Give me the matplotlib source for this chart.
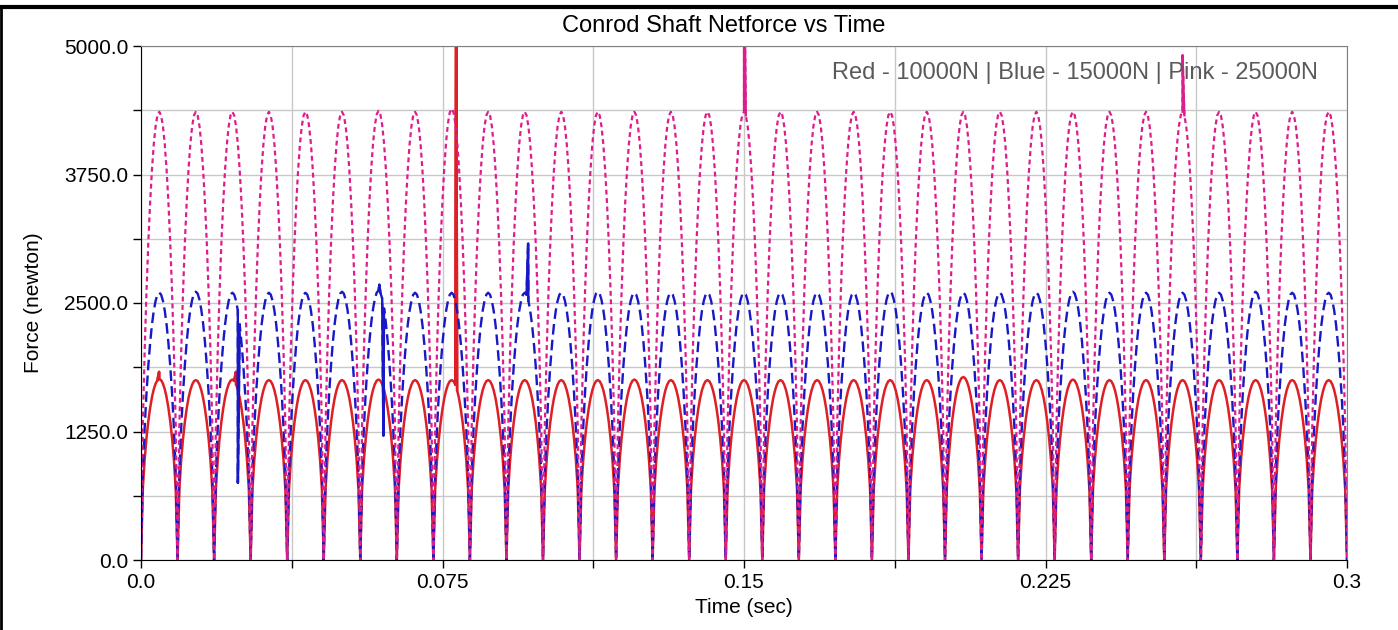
import numpy as np
import matplotlib
matplotlib.use("Agg")
import matplotlib.pyplot as plt
from matplotlib.lines import Line2D

plt.rcParams['font.family'] = ['Liberation Sans', 'DejaVu Sans']

# ---- data ----
t_end = 0.3
n_humps = 33

# normalised shape of half a hump (phase 0 .. 0.5 of one cycle, step 0.05)
red_profile = [0.0, 0.395, 0.556, 0.674, 0.767, 0.841, 0.900, 0.944, 0.975, 0.994, 1.0]
blue_profile = [0.0, 0.328, 0.494, 0.623, 0.727, 0.812, 0.881, 0.933, 0.970, 0.993, 1.0]
pink_profile = [0.0, 0.299, 0.466, 0.598, 0.708, 0.798, 0.871, 0.928, 0.968, 0.992, 1.0]

# peak of every hump (newton)
red_peaks = [1760, 1750, 1755, 1750, 1750, 1750, 1755, 1750, 1750, 1750, 1750,
             1750, 1750, 1755, 1750, 1750, 1750, 1750, 1750, 1750, 1750, 1750,
             1780, 1750, 1750, 1755, 1750, 1750, 1750, 1750, 1750, 1750, 1750]
blue_peaks = [2600, 2610, 2600, 2600, 2600, 2610, 2620, 2600, 2600, 2600, 2600,
              2600, 2610, 2600, 2600, 2600, 2600, 2600, 2600, 2600, 2610, 2600,
              2600, 2600, 2600, 2610, 2600, 2600, 2600, 2600, 2610, 2600, 2600]
pink_peaks = [4360, 4360, 4360, 4360, 4360, 4360, 4370, 4360, 4390, 4360, 4360,
              4360, 4360, 4360, 4360, 4360, 4360, 4360, 4360, 4360, 4360, 4360,
              4360, 4360, 4360, 4360, 4360, 4360, 4360, 4360, 4360, 4360, 4360]

# (time, value) of single-sample spikes
red_spikes = [(0.0045, 1830), (0.0236, 1830), (0.0784, 6000)]
blue_spikes = [(0.0241, 750), (0.0593, 2680), (0.0603, 1210), (0.0963, 3080)]
pink_spikes = [(0.1500, 6000), (0.2591, 4910)]

title = "Conrod Shaft Netforce vs Time"
legend_text = "Red - 10000N | Blue - 15000N | Pink - 25000N"
x_ticks = [0.0, 0.0375, 0.075, 0.1125, 0.15, 0.1875, 0.225, 0.2625, 0.3]
x_labels = ["0.0", "", "0.075", "", "0.15", "", "0.225", "", "0.3"]
y_ticks = [0, 625, 1250, 1875, 2500, 3125, 3750, 4375, 5000]
y_labels = ["0.0", "", "1250.0", "", "2500.0", "", "3750.0", "", "5000.0"]


def build(profile, peaks, spikes):
    period = t_end / n_humps
    half = np.array(profile)
    shape = np.concatenate([half, half[-2::-1]])
    phase = np.linspace(0, 1, len(shape))
    t, v = [], []
    for k, pk in enumerate(peaks):
        tt = (k + phase) * period
        vv = pk * shape
        if k > 0:
            tt, vv = tt[1:], vv[1:]
        t.extend(tt)
        v.extend(vv)
    for st, sv in spikes:
        t.append(st)
        v.append(sv)
    t = np.array(t)
    v = np.array(v)
    order = np.argsort(t, kind="stable")
    return t[order], v[order]


def draw(t, v, spikes, color, lw, ls):
    ax.plot(t, v, color=color, lw=lw, linestyle=ls)
    # spikes come out as solid strokes in the original
    for st, sv in spikes:
        i = int(np.where((t == st) & (v == sv))[0][0])
        ax.plot(t[i - 1:i + 2], v[i - 1:i + 2], color=color, lw=lw)


fig = plt.figure(figsize=(13.98, 6.30), dpi=100)
ax = fig.add_axes([141 / 1398, 1 - 560 / 630, 1206 / 1398, 514 / 630])

rt, rv = build(red_profile, red_peaks, red_spikes)
bt, bv = build(blue_profile, blue_peaks, blue_spikes)
pt, pv = build(pink_profile, pink_peaks, pink_spikes)

draw(rt, rv, red_spikes, '#dd1f26', 1.8, '-')
draw(bt, bv, blue_spikes, '#1818c4', 1.7, (0, (4.5, 2.2)))
draw(pt, pv, pink_spikes, '#dc1e8c', 1.6, (0, (2.2, 1.6)))

ax.set_xlim(0, t_end)
ax.set_ylim(0, 5000)
ax.set_xticks(x_ticks)
ax.set_xticklabels(x_labels)
ax.set_yticks(y_ticks)
ax.set_yticklabels(y_labels)
ax.tick_params(direction='out', length=6, width=1, labelsize=15, pad=3)
ax.grid(True, color='#c8c8c8', lw=1)
ax.set_axisbelow(True)

for s in ['top', 'right']:
    ax.spines[s].set_color('#808080')
for s in ['left', 'bottom']:
    ax.spines[s].set_color('black')

ax.set_title(title, fontsize=17, x=0.483, y=1.027, pad=0)
ax.text(0.976, 0.9475, legend_text, transform=ax.transAxes, ha='right',
        va='center', fontsize=17, color='#5a5a5a')

ax.set_xlabel("Time (sec)", fontsize=15)
ax.set_ylabel("Force (newton)", fontsize=15)
ax.xaxis.set_label_coords(0.5, -0.074)
ax.yaxis.set_label_coords(-0.081, 0.5)

# window frame
fig.add_artist(Line2D([0, 1], [1 - 7 / 630, 1 - 7 / 630], color='black', lw=3,
                      transform=fig.transFigure))
fig.add_artist(Line2D([0.001, 0.001], [0, 1 - 7 / 630], color='black', lw=2,
                      transform=fig.transFigure))

fig.savefig("out.png", dpi=100)
